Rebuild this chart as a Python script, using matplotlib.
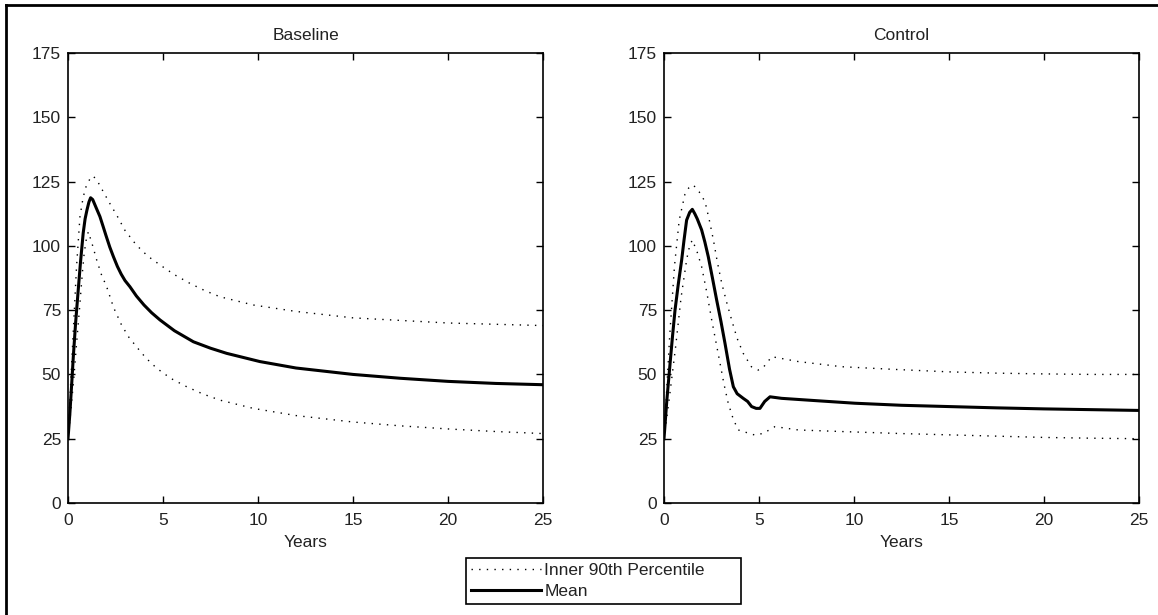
import matplotlib.pyplot as plt
from matplotlib import font_manager
from matplotlib.lines import Line2D

# pick a narrow-ish sans if it is there
names = {f.name for f in font_manager.fontManager.ttflist}
fam = 'Liberation Sans Narrow' if 'Liberation Sans Narrow' in names else 'Liberation Sans'
plt.rcParams['font.family'] = [fam, 'DejaVu Sans']
plt.rcParams['font.size'] = 12.5

# Baseline scenario (years, value)
base_mean_x = [0, 0.1, 0.2, 0.28, 0.4, 0.54, 0.65, 0.8, 0.9, 1.0, 1.1, 1.19, 1.3, 1.5, 1.68, 1.85, 2.0, 2.2, 2.39, 2.6, 2.8, 3.0, 3.26, 3.6, 4.0, 4.4, 4.84, 5.6, 6.6, 7.5, 8.35, 10.1, 12, 15, 17.5, 20, 22.5, 25]
base_mean_y = [25, 35, 47, 57, 70, 83, 93, 105, 110.5, 114, 117, 118.7, 118, 114.5, 111.4, 107.5, 104, 99.5, 95.8, 92, 89, 86.5, 84.1, 80.5, 77, 74, 71.2, 67, 62.7, 60.2, 58.2, 55.0, 52.5, 50.0, 48.5, 47.3, 46.5, 46.0]
base_hi_x = [0, 0.15, 0.3, 0.45, 0.63, 0.8, 0.95, 1.15, 1.33, 1.6, 1.86, 2.2, 2.56, 3.0, 3.6, 4.2, 4.84, 5.6, 6.42, 7.2, 8.0, 9.75, 12, 15, 17.5, 20, 22.5, 25]
base_hi_y = [25, 48, 70, 92, 111.4, 119, 123, 126, 127.2, 124.5, 121, 116.5, 112, 106, 100.3, 96, 92.6, 88.8, 85.4, 82.6, 80.2, 77.0, 74.5, 72.0, 71.0, 70.0, 69.5, 69.0]
base_lo_x = [0, 0.15, 0.3, 0.45, 0.6, 0.75, 0.85, 0.95, 1.07, 1.3, 1.51, 1.75, 2.04, 2.4, 2.82, 3.2, 3.6, 4.1, 4.67, 5.4, 6.25, 7.1, 8.0, 9.75, 12, 15, 17.5, 20, 22.5, 25]
base_lo_y = [25, 36, 48, 62, 75, 89, 97, 102, 105.5, 100, 94.5, 89, 84, 76, 69.2, 64.5, 60.8, 56.4, 52.4, 48.5, 45.2, 42.4, 40.0, 36.8, 34.0, 31.5, 30.0, 28.8, 27.8, 27.0]

# Control scenario
ctrl_mean_x = [0, 0.15, 0.32, 0.45, 0.58, 0.75, 0.93, 1.05, 1.19, 1.35, 1.49, 1.62, 1.75, 1.98, 2.15, 2.33, 2.55, 2.77, 3.0, 3.21, 3.45, 3.65, 3.85, 4.17, 4.4, 4.61, 4.85, 5.05, 5.3, 5.58, 6.19, 8, 10.05, 12.5, 15, 17.5, 20, 22.5, 25]
ctrl_mean_y = [25, 40, 54.3, 65, 75, 85, 94.5, 102, 110, 113, 114.2, 112.5, 110.5, 106.2, 101.5, 95.8, 87.5, 79, 70.5, 62.1, 52, 45.2, 42.5, 40.7, 39.5, 37.5, 36.8, 36.8, 39.5, 41.3, 40.7, 39.8, 38.8, 38.0, 37.5, 37.0, 36.6, 36.3, 36.0]
ctrl_hi_x = [0, 0.15, 0.3, 0.55, 0.8, 1.1, 1.3, 1.54, 1.85, 2.16, 2.4, 2.6, 2.8, 3.04, 3.3, 3.56, 3.85, 4.17, 4.6, 4.96, 5.2, 5.67, 7.07, 9.35, 12, 15, 17.5, 20, 22.5, 25]
ctrl_hi_y = [25, 45, 65, 92, 110, 120, 122.5, 123.7, 121, 117.2, 109.5, 102.3, 94, 85.4, 78, 71.2, 64, 58.2, 53, 51.7, 52.5, 56.9, 55.0, 53.0, 52.0, 51.0, 50.5, 50.2, 50.0, 50.0]
ctrl_lo_x = [0, 0.3, 0.6, 0.9, 1.2, 1.35, 1.49, 1.75, 1.98, 2.25, 2.51, 2.75, 2.95, 3.15, 3.38, 3.65, 3.91, 4.3, 4.79, 5.23, 5.84, 7.07, 9.7, 12.5, 15, 17.5, 20, 22.5, 25]
ctrl_lo_y = [25, 42, 60, 80, 95, 100, 102.3, 97.5, 91.9, 82, 71.2, 62, 54.3, 46.5, 38.8, 32.5, 28.4, 27.5, 26.4, 27.1, 29.7, 28.4, 27.7, 27.0, 26.5, 26.0, 25.5, 25.2, 25.0]

W, H = 1158, 615
fig = plt.figure(figsize=(W / 100, H / 100), dpi=100)

def px_axes(x0, x1, y0, y1):
    return fig.add_axes([x0 / W, 1 - y1 / H, (x1 - x0) / W, (y1 - y0) / H])

ax1 = px_axes(68, 543, 53, 503)
ax2 = px_axes(664, 1139, 53, 503)

panels = [
    (ax1, 'Baseline', base_mean_x, base_mean_y, base_hi_x, base_hi_y, base_lo_x, base_lo_y),
    (ax2, 'Control', ctrl_mean_x, ctrl_mean_y, ctrl_hi_x, ctrl_hi_y, ctrl_lo_x, ctrl_lo_y),
]

dots = (0, (1, 4.5))
for ax, title, mx, my, hx, hy, lx, ly in panels:
    ax.plot(hx, hy, color='black', lw=1, linestyle=dots, label='Inner 90th Percentile')
    ax.plot(lx, ly, color='black', lw=1, linestyle=dots)
    ax.plot(mx, my, color='black', lw=2.2, label='Mean')
    ax.set_xlim(0, 25)
    ax.set_ylim(0, 175)
    ax.set_xticks(range(0, 26, 5))
    ax.set_yticks(range(0, 176, 25))
    ax.tick_params(direction='in', top=True, right=True, length=5, width=1,
                   colors='black', labelcolor='#222222', labelsize=12.5)
    ax.tick_params(axis='x', pad=7)
    ax.tick_params(axis='y', pad=5)
    for s in ax.spines.values():
        s.set_linewidth(1.2)
    ax.set_title(title, fontsize=12.5, pad=9, color='#222222')
    ax.set_xlabel('Years', fontsize=12.5, labelpad=5, color='#222222')

h, l = ax1.get_legend_handles_labels()
leg = fig.legend(h, l, loc='lower left',
                 bbox_to_anchor=(466 / W, 1 - 604 / H, 275 / W, 66 / H),
                 mode='expand', borderaxespad=0, fancybox=False, framealpha=1,
                 edgecolor='black', handlelength=4.0, handletextpad=0.2,
                 fontsize=12.5, borderpad=0.3, labelspacing=0.3)
leg.get_frame().set_linewidth(1.2)
for t in leg.get_texts():
    t.set_color('#222222')

# screenshot frame on the left and top
fig.add_artist(Line2D([6 / W, 6 / W], [0, 1 - 5 / H], color='black', lw=2))
fig.add_artist(Line2D([6 / W, 1], [1 - 5 / H, 1 - 5 / H], color='black', lw=2))

plt.savefig('out.png', dpi=100)
